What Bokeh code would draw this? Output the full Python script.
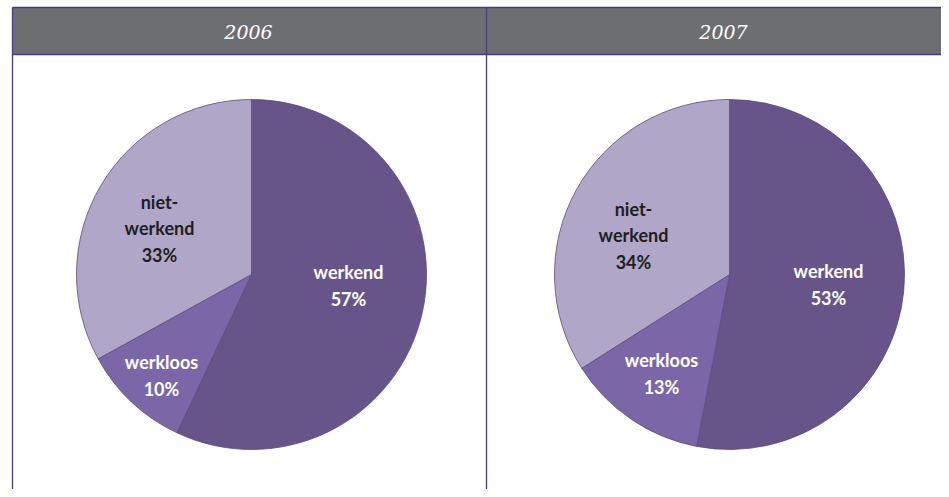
import math
from bokeh.plotting import figure
from bokeh.models import Range1d
from bokeh.core.properties import value
from bokeh.embed import file_html
from bokeh.resources import INLINE

# ---- data ----
years = ["2006", "2007"]
categories = ["werkend", "werkloos", "niet-werkend"]
labels = ["werkend", "werkloos", "niet-\nwerkend"]
shares_2006 = [57, 10, 33]
shares_2007 = [53, 13, 34]
colors = ["#67558A", "#7B67A7", "#B0A7C8"]
label_colors = ["#FFFFFF", "#FFFFFF", "#1E1E1E"]

# ---- layout (page px: x right, y down; data y = H - y) ----
W, H = 949, 497
M = 8
FW, FH = W - M, H - M
p = figure(width=FW, height=FH, output_backend="svg", toolbar_location=None,
           x_range=Range1d(0, FW), y_range=Range1d(H - FH, H), min_border=0,
           outline_line_color=None)
p.axis.visible = False
p.grid.visible = False
p.background_fill_color = "white"
p.border_fill_color = "white"

def Y(y):
    return H - y

left_x, mid_x, right_x = 12, 486, FW
top_y, head_bot = 7, 54
border = "#453C8A"

# header band
p.quad(left=[left_x], right=[right_x], top=[Y(top_y)], bottom=[Y(head_bot)],
       fill_color="#6D6E70", line_color=None)
# borders
p.segment(x0=[left_x, left_x, left_x, mid_x], y0=[Y(top_y), Y(head_bot), Y(top_y), Y(top_y)],
          x1=[right_x, right_x, left_x, mid_x], y1=[Y(top_y), Y(head_bot), Y(H), Y(H)],
          line_color=border, line_width=1.3)

header_x = [248, 723]
pie_centers = [(251, 274), (729, 274)]
R = 175
label_pos = [
    [(348, 285), (161, 375), (159, 228)],
    [(828, 284), (661, 373), (633, 235)],
]

for k, (year, shares) in enumerate(zip(years, [shares_2006, shares_2007])):
    cx, cy = pie_centers[k]
    p.text(x=[header_x[k]], y=[Y(31)], text=[year], text_color="white",
           text_font=value("DejaVu Serif"), text_font_style="italic",
           text_font_size="19px", text_align="center", text_baseline="middle")
    total = sum(shares)
    cum = 0
    starts, ends = [], []
    for s in shares:
        starts.append(math.pi / 2 - cum / total * 2 * math.pi)
        cum += s
        ends.append(math.pi / 2 - cum / total * 2 * math.pi)
    p.wedge(x=[cx] * 3, y=[Y(cy)] * 3, radius=R, start_angle=starts, end_angle=ends,
            direction="clock", fill_color=colors, line_color="#5A4A82", line_width=0.8)
    for i, (s, lab) in enumerate(zip(shares, labels)):
        lx, ly = label_pos[k][i]
        p.text(x=[lx], y=[Y(ly)], text=[f"{lab}\n{s}%"], text_color=label_colors[i],
               text_font=value("Lato"), text_font_style="bold", text_font_size="18px",
               text_align="center", text_baseline="middle", text_line_height=1.2)

open("out.html", "w").write(file_html(p, INLINE))
